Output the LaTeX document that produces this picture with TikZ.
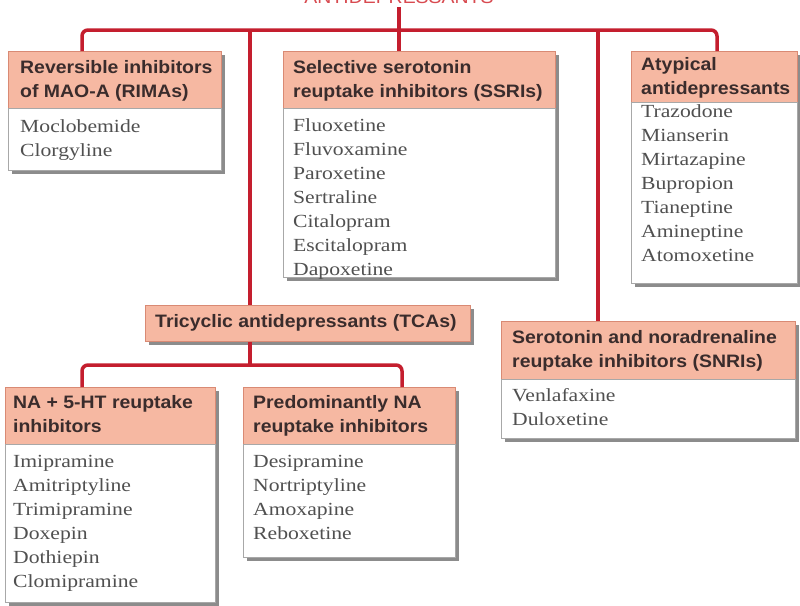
\documentclass[tikz,border=0pt]{standalone}
\usepackage{fontspec}
\usetikzlibrary{shadows}
\newfontfamily\hfont[FakeStretch=1.08]{Liberation Sans}
\newfontfamily\bfont[FakeStretch=1.17]{Liberation Serif}
\definecolor{hdrfill}{HTML}{F6B8A2}
\definecolor{hdrline}{HTML}{D98A74}
\definecolor{hdrtext}{HTML}{3A2C2C}
\definecolor{bodyline}{HTML}{A8A8A8}
\definecolor{bodytext}{HTML}{505050}
\definecolor{connred}{HTML}{C41E2E}
\definecolor{titlered}{HTML}{D84A50}
\definecolor{shadowc}{HTML}{8C8C8C}
\newcommand{\lns}[1]{\begin{tabular}[t]{@{}l@{}}#1\end{tabular}}
\tikzset{
  boxshadow/.style={drop shadow={shadow xshift=3.5pt,shadow yshift=-3.5pt,fill=shadowc,opacity=1}},
  hdr/.style={draw=hdrline,fill=hdrfill,line width=0.8pt,inner sep=0pt,anchor=north west,boxshadow},
  bdy/.style={draw=bodyline,fill=white,line width=0.8pt,inner sep=0pt,anchor=north west,boxshadow},
  htxt/.style={anchor=base west,inner sep=0pt,text=hdrtext,font=\hfont\bfseries\fontsize{18pt}{24pt}\selectfont},
  btxt/.style={anchor=base west,inner sep=0pt,text=bodytext,font=\bfont\fontsize{18.5pt}{24pt}\selectfont},
  conn/.style={draw=connred,line width=3.5pt},
  ttl/.style={anchor=base,inner sep=0pt,text=titlered,font=\hfont\fontsize{18pt}{24pt}\selectfont},
}
\begin{document}
\begin{tikzpicture}[x=1pt,y=-1pt]
\useasboundingbox (0,0) rectangle (800,605);
\clip (0,0) rectangle (800,605);
\fill[white] (0,0) rectangle (800,605);

% title (cut off at top)
\node[ttl] (title) at (399,3) {ANTIDEPRESSANTS};

% box frames (positions)
\node[hdr,minimum width=213pt,minimum height=57pt] (rimah) at (8,51) {};
\node[bdy,minimum width=213pt,minimum height=62pt] (rimab) at (8,108) {};
\node[hdr,minimum width=272pt,minimum height=57pt] (ssrih) at (283,51) {};
\node[bdy,minimum width=272pt,minimum height=169pt] (ssrib) at (283,108) {};
\node[hdr,minimum width=166pt,minimum height=51pt] (atyph) at (631,51) {};
\node[bdy,minimum width=166pt,minimum height=181pt] (atypb) at (631,102) {};
\node[hdr,minimum width=325pt,minimum height=36pt] (tcah) at (145,305) {};
\node[hdr,minimum width=210pt,minimum height=57pt] (nah) at (5,387) {};
\node[bdy,minimum width=210pt,minimum height=158pt] (nab) at (5,444) {};
\node[hdr,minimum width=212pt,minimum height=57pt] (predh) at (243,387) {};
\node[bdy,minimum width=212pt,minimum height=113pt] (predb) at (243,444) {};
\node[hdr,minimum width=294pt,minimum height=58pt] (snrih) at (501,321) {};
\node[bdy,minimum width=294pt,minimum height=59pt] (snrib) at (501,379) {};

% connectors (drawn behind the boxes)
\begin{scope}[on background layer/.style={}]
\coordinate (bar) at (399,30);
\coordinate (jt) at (250,30);
\coordinate (js) at (598,30);
\coordinate (jsub) at (250,365);
\end{scope}
\draw[conn] ([yshift=-4pt]title.south) -- (bar);
\draw[conn,rounded corners=6pt] ([xshift=74pt]rimah.north west) |- (bar) -| ([xshift=86pt]atyph.north west);
\draw[conn] (bar) -- (bar |- ssrih.north);
\draw[conn] (jt) -- (jt |- tcah.north);
\draw[conn] (js) -- (js |- snrih.north);
\draw[conn] (jt |- tcah.south) -- (jsub);
\draw[conn,rounded corners=6pt] ([xshift=77pt]nah.north west) |- (jsub) -| ([xshift=159pt]predh.north west);

% header texts
\node[htxt] (rimat) at ([shift={(12,22)}]rimah.north west) {\lns{Reversible inhibitors\\of MAO-A (RIMAs)}};
\node[htxt] (ssrit) at ([shift={(10,22)}]ssrih.north west) {\lns{Selective serotonin\\reuptake inhibitors (SSRIs)}};
\node[htxt] (atypt) at ([shift={(10,19)}]atyph.north west) {\lns{Atypical\\antidepressants}};
\node[htxt] (tcat) at ([shift={(10,22)}]tcah.north west) {Tricyclic antidepressants (TCAs)};
\node[htxt] (nat) at ([shift={(8,21)}]nah.north west) {\lns{NA + 5-HT reuptake\\inhibitors}};
\node[htxt] (predt) at ([shift={(10,21)}]predh.north west) {\lns{Predominantly NA\\reuptake inhibitors}};
\node[htxt] (snrit) at ([shift={(11,22)}]snrih.north west) {\lns{Serotonin and noradrenaline\\reuptake inhibitors (SNRIs)}};

% body texts
\node[btxt] (rimal) at ([shift={(12,24)}]rimab.north west) {\lns{Moclobemide\\Clorgyline}};
\node[btxt] (ssril) at ([shift={(10,23)}]ssrib.north west) {\lns{Fluoxetine\\Fluvoxamine\\Paroxetine\\Sertraline\\Citalopram\\Escitalopram\\Dapoxetine}};
\node[btxt] (atypl) at ([shift={(10,15)}]atypb.north west) {\lns{Trazodone\\Mianserin\\Mirtazapine\\Bupropion\\Tianeptine\\Amineptine\\Atomoxetine}};
\node[btxt] (nal) at ([shift={(8,23)}]nab.north west) {\lns{Imipramine\\Amitriptyline\\Trimipramine\\Doxepin\\Dothiepin\\Clomipramine}};
\node[btxt] (predl) at ([shift={(10,23)}]predb.north west) {\lns{Desipramine\\Nortriptyline\\Amoxapine\\Reboxetine}};
\node[btxt] (snril) at ([shift={(11,22)}]snrib.north west) {\lns{Venlafaxine\\Duloxetine}};
\end{tikzpicture}
\end{document}
